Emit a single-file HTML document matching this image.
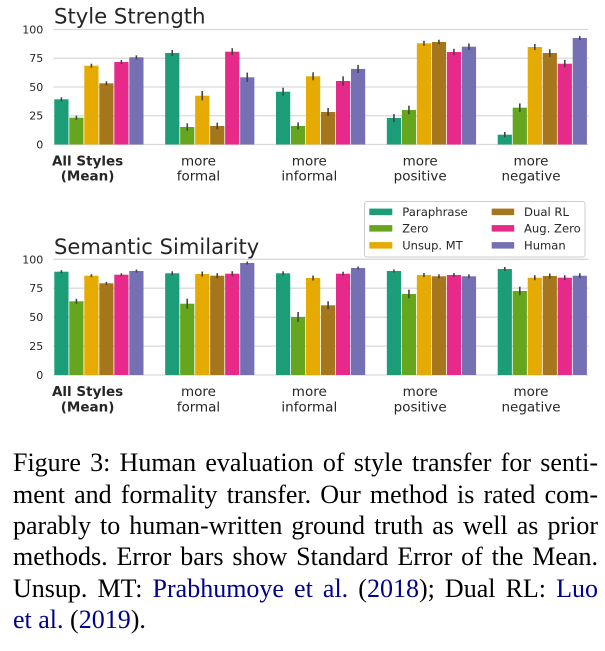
<!DOCTYPE html>
<html>
<head>
<meta charset="utf-8">
<style>
  html, body { margin:0; padding:0; background:#fff; }
  body { width:605px; height:651px; position:relative; overflow:hidden; }
  svg { position:absolute; left:0; top:0; }
  .cap { position:absolute; left:13px; width:585px; font-family:"Liberation Serif", "Times New Roman", serif; font-size:26px; line-height:31.3px; color:#000; text-align:justify; text-align-last:justify; white-space:normal; }
  .cap.last { text-align:left; text-align-last:left; }
  .lk { color:#00008b; }
</style>
</head>
<body>
<svg width="605" height="440" viewBox="0 0 605 440" xmlns="http://www.w3.org/2000/svg" font-family="'DejaVu Sans', 'Liberation Sans', sans-serif">
  <!-- ===== TOP CHART: Style Strength ===== -->
  <g stroke="#d9d9d9" stroke-width="1.3">
    <line x1="53.3" x2="588.3" y1="29.5" y2="29.5"/>
    <line x1="53.3" x2="588.3" y1="58.25" y2="58.25"/>
    <line x1="53.3" x2="588.3" y1="87" y2="87"/>
    <line x1="53.3" x2="588.3" y1="115.75" y2="115.75"/>
    <line x1="53.3" x2="588.3" y1="144.5" y2="144.5"/>
  </g>
  <g fill="#262626" font-size="11" text-anchor="end">
    <text x="43.3" y="33.5">100</text>
    <text x="43.3" y="62.2">75</text>
    <text x="43.3" y="91">50</text>
    <text x="43.3" y="119.7">25</text>
    <text x="43.3" y="148.5">0</text>
  </g>
  <text x="54" y="23.3" font-size="21.5" fill="#262626" textLength="151.5" lengthAdjust="spacingAndGlyphs">Style Strength</text>

  <g>
    <!-- G0 -->
    <rect x="54.3" y="99.3" width="14.2" height="45.2" fill="#1b9e77"/>
    <rect x="69.3" y="117.7" width="14.2" height="26.8" fill="#66a61e"/>
    <rect x="84.3" y="65.7" width="14.2" height="78.8" fill="#e6ab02"/>
    <rect x="99.3" y="83.3" width="14.2" height="61.2" fill="#a6761d"/>
    <rect x="114.3" y="62.0" width="14.2" height="82.5" fill="#e7298a"/>
    <rect x="129.3" y="57.3" width="14.2" height="87.2" fill="#7570b3"/>
    <!-- G1 -->
    <rect x="165.15" y="53.0" width="14.2" height="91.5" fill="#1b9e77"/>
    <rect x="180.15" y="127.0" width="14.2" height="17.5" fill="#66a61e"/>
    <rect x="195.15" y="95.7" width="14.2" height="48.8" fill="#e6ab02"/>
    <rect x="210.15" y="126.0" width="14.2" height="18.5" fill="#a6761d"/>
    <rect x="225.15" y="51.7" width="14.2" height="92.8" fill="#e7298a"/>
    <rect x="240.15" y="77.3" width="14.2" height="67.2" fill="#7570b3"/>
    <!-- G2 -->
    <rect x="276" y="91.7" width="14.2" height="52.8" fill="#1b9e77"/>
    <rect x="291" y="126.0" width="14.2" height="18.5" fill="#66a61e"/>
    <rect x="306" y="76.3" width="14.2" height="68.2" fill="#e6ab02"/>
    <rect x="321" y="112.0" width="14.2" height="32.5" fill="#a6761d"/>
    <rect x="336" y="81.0" width="14.2" height="63.5" fill="#e7298a"/>
    <rect x="351" y="68.9" width="14.2" height="75.6" fill="#7570b3"/>
    <!-- G3 -->
    <rect x="386.85" y="118.0" width="14.2" height="26.5" fill="#1b9e77"/>
    <rect x="401.85" y="110.0" width="14.2" height="34.5" fill="#66a61e"/>
    <rect x="416.85" y="43.3" width="14.2" height="101.2" fill="#e6ab02"/>
    <rect x="431.85" y="42.0" width="14.2" height="102.5" fill="#a6761d"/>
    <rect x="446.85" y="52.0" width="14.2" height="92.5" fill="#e7298a"/>
    <rect x="461.85" y="46.7" width="14.2" height="97.8" fill="#7570b3"/>
    <!-- G4 -->
    <rect x="497.7" y="134.7" width="14.2" height="9.8" fill="#1b9e77"/>
    <rect x="512.7" y="107.7" width="14.2" height="36.8" fill="#66a61e"/>
    <rect x="527.7" y="47.0" width="14.2" height="97.5" fill="#e6ab02"/>
    <rect x="542.7" y="53.0" width="14.2" height="91.5" fill="#a6761d"/>
    <rect x="557.7" y="63.7" width="14.2" height="80.8" fill="#e7298a"/>
    <rect x="572.7" y="38.0" width="14.2" height="106.5" fill="#7570b3"/>
  </g>
  <g stroke="#444" stroke-width="1.6">
    <line x1="61.4" x2="61.4" y1="97.3" y2="101.3"/>
    <line x1="76.4" x2="76.4" y1="115.7" y2="119.7"/>
    <line x1="91.4" x2="91.4" y1="63.7" y2="67.7"/>
    <line x1="106.4" x2="106.4" y1="81.3" y2="85.3"/>
    <line x1="121.4" x2="121.4" y1="60" y2="64"/>
    <line x1="136.4" x2="136.4" y1="55.3" y2="59.3"/>

    <line x1="172.25" x2="172.25" y1="50" y2="56"/>
    <line x1="187.25" x2="187.25" y1="123.3" y2="130.7"/>
    <line x1="202.25" x2="202.25" y1="91" y2="100.4"/>
    <line x1="217.25" x2="217.25" y1="122.7" y2="129.3"/>
    <line x1="232.25" x2="232.25" y1="48.2" y2="55.2"/>
    <line x1="247.25" x2="247.25" y1="72.6" y2="82"/>

    <line x1="283.1" x2="283.1" y1="87.7" y2="95.7"/>
    <line x1="298.1" x2="298.1" y1="122.5" y2="129.5"/>
    <line x1="313.1" x2="313.1" y1="72.3" y2="80.3"/>
    <line x1="328.1" x2="328.1" y1="108" y2="116"/>
    <line x1="343.1" x2="343.1" y1="76.3" y2="85.7"/>
    <line x1="358.1" x2="358.1" y1="64.9" y2="72.9"/>

    <line x1="393.95" x2="393.95" y1="114" y2="122"/>
    <line x1="408.95" x2="408.95" y1="105.7" y2="114.3"/>
    <line x1="423.95" x2="423.95" y1="40.8" y2="45.8"/>
    <line x1="438.95" x2="438.95" y1="39.7" y2="44.3"/>
    <line x1="453.95" x2="453.95" y1="48.8" y2="55.2"/>
    <line x1="468.95" x2="468.95" y1="43.4" y2="50"/>

    <line x1="504.8" x2="504.8" y1="132" y2="137.4"/>
    <line x1="519.8" x2="519.8" y1="103.4" y2="112"/>
    <line x1="534.8" x2="534.8" y1="44" y2="50"/>
    <line x1="549.8" x2="549.8" y1="49.3" y2="56.7"/>
    <line x1="564.8" x2="564.8" y1="59.9" y2="67.5"/>
    <line x1="579.8" x2="579.8" y1="36" y2="40"/>
  </g>
  <g fill="#262626" font-size="13.5" text-anchor="middle">
    <text x="87.6" y="165.7" font-weight="bold">All Styles</text>
    <text x="87.6" y="180.5" font-weight="bold">(Mean)</text>
    <text x="198.45" y="165.7">more</text>
    <text x="198.45" y="180.5">formal</text>
    <text x="309.3" y="165.7">more</text>
    <text x="309.3" y="180.5">informal</text>
    <text x="420.15" y="165.7">more</text>
    <text x="420.15" y="180.5">positive</text>
    <text x="531" y="165.7">more</text>
    <text x="531" y="180.5">negative</text>
  </g>

  <!-- ===== BOTTOM CHART: Semantic Similarity ===== -->
  <g stroke="#d9d9d9" stroke-width="1.3">
    <line x1="53.3" x2="588.3" y1="259.3" y2="259.3"/>
    <line x1="53.3" x2="588.3" y1="288.2" y2="288.2"/>
    <line x1="53.3" x2="588.3" y1="317.2" y2="317.2"/>
    <line x1="53.3" x2="588.3" y1="346.1" y2="346.1"/>
    <line x1="53.3" x2="588.3" y1="375" y2="375"/>
  </g>
  <g fill="#262626" font-size="11" text-anchor="end">
    <text x="43.3" y="263.3">100</text>
    <text x="43.3" y="292.2">75</text>
    <text x="43.3" y="321.2">50</text>
    <text x="43.3" y="350.1">25</text>
    <text x="43.3" y="379">0</text>
  </g>
  <text x="54" y="254" font-size="21.5" fill="#262626" textLength="205.3" lengthAdjust="spacingAndGlyphs">Semantic Similarity</text>

  <g>
    <rect x="54.3" y="271.7" width="14.2" height="103.3" fill="#1b9e77"/>
    <rect x="69.3" y="301.3" width="14.2" height="73.7" fill="#66a61e"/>
    <rect x="84.3" y="275.7" width="14.2" height="99.3" fill="#e6ab02"/>
    <rect x="99.3" y="283.3" width="14.2" height="91.7" fill="#a6761d"/>
    <rect x="114.3" y="274.7" width="14.2" height="100.3" fill="#e7298a"/>
    <rect x="129.3" y="271.0" width="14.2" height="104" fill="#7570b3"/>

    <rect x="165.15" y="273.3" width="14.2" height="101.7" fill="#1b9e77"/>
    <rect x="180.15" y="303.7" width="14.2" height="71.3" fill="#66a61e"/>
    <rect x="195.15" y="274.0" width="14.2" height="101" fill="#e6ab02"/>
    <rect x="210.15" y="275.7" width="14.2" height="99.3" fill="#a6761d"/>
    <rect x="225.15" y="273.7" width="14.2" height="101.3" fill="#e7298a"/>
    <rect x="240.15" y="263.0" width="14.2" height="112" fill="#7570b3"/>

    <rect x="276" y="273.3" width="14.2" height="101.7" fill="#1b9e77"/>
    <rect x="291" y="317.0" width="14.2" height="58" fill="#66a61e"/>
    <rect x="306" y="278.0" width="14.2" height="97" fill="#e6ab02"/>
    <rect x="321" y="305.3" width="14.2" height="69.7" fill="#a6761d"/>
    <rect x="336" y="273.7" width="14.2" height="101.3" fill="#e7298a"/>
    <rect x="351" y="268.0" width="14.2" height="107" fill="#7570b3"/>

    <rect x="386.85" y="271.0" width="14.2" height="104" fill="#1b9e77"/>
    <rect x="401.85" y="294.0" width="14.2" height="81" fill="#66a61e"/>
    <rect x="416.85" y="275.0" width="14.2" height="100" fill="#e6ab02"/>
    <rect x="431.85" y="276.3" width="14.2" height="98.7" fill="#a6761d"/>
    <rect x="446.85" y="275.0" width="14.2" height="100" fill="#e7298a"/>
    <rect x="461.85" y="276.3" width="14.2" height="98.7" fill="#7570b3"/>

    <rect x="497.7" y="269.0" width="14.2" height="106" fill="#1b9e77"/>
    <rect x="512.7" y="291.0" width="14.2" height="84" fill="#66a61e"/>
    <rect x="527.7" y="277.7" width="14.2" height="97.3" fill="#e6ab02"/>
    <rect x="542.7" y="276.0" width="14.2" height="99" fill="#a6761d"/>
    <rect x="557.7" y="277.7" width="14.2" height="97.3" fill="#e7298a"/>
    <rect x="572.7" y="275.7" width="14.2" height="99.3" fill="#7570b3"/>
  </g>
  <g stroke="#444" stroke-width="1.6">
    <line x1="61.4" x2="61.4" y1="270.2" y2="273.2"/>
    <line x1="76.4" x2="76.4" y1="298.8" y2="303.8"/>
    <line x1="91.4" x2="91.4" y1="274.2" y2="277.2"/>
    <line x1="106.4" x2="106.4" y1="281.8" y2="284.8"/>
    <line x1="121.4" x2="121.4" y1="273.2" y2="276.2"/>
    <line x1="136.4" x2="136.4" y1="269.5" y2="272.5"/>

    <line x1="172.25" x2="172.25" y1="271.3" y2="275.3"/>
    <line x1="187.25" x2="187.25" y1="298.7" y2="308.7"/>
    <line x1="202.25" x2="202.25" y1="271.5" y2="276.5"/>
    <line x1="217.25" x2="217.25" y1="273.2" y2="278.2"/>
    <line x1="232.25" x2="232.25" y1="271.2" y2="276.2"/>
    <line x1="247.25" x2="247.25" y1="261.5" y2="264.5"/>

    <line x1="283.1" x2="283.1" y1="271.3" y2="275.3"/>
    <line x1="298.1" x2="298.1" y1="312" y2="322"/>
    <line x1="313.1" x2="313.1" y1="275.5" y2="280.5"/>
    <line x1="328.1" x2="328.1" y1="301.3" y2="309.3"/>
    <line x1="343.1" x2="343.1" y1="271.7" y2="275.7"/>
    <line x1="358.1" x2="358.1" y1="266.5" y2="269.5"/>

    <line x1="393.95" x2="393.95" y1="269.5" y2="272.5"/>
    <line x1="408.95" x2="408.95" y1="289.7" y2="298.3"/>
    <line x1="423.95" x2="423.95" y1="273" y2="277"/>
    <line x1="438.95" x2="438.95" y1="274.3" y2="278.3"/>
    <line x1="453.95" x2="453.95" y1="273" y2="277"/>
    <line x1="468.95" x2="468.95" y1="274.3" y2="278.3"/>

    <line x1="504.8" x2="504.8" y1="267" y2="271"/>
    <line x1="519.8" x2="519.8" y1="286.7" y2="295.3"/>
    <line x1="534.8" x2="534.8" y1="275.2" y2="280.2"/>
    <line x1="549.8" x2="549.8" y1="273.5" y2="278.5"/>
    <line x1="564.8" x2="564.8" y1="275.2" y2="280.2"/>
    <line x1="579.8" x2="579.8" y1="273.2" y2="278.2"/>
  </g>
  <g fill="#262626" font-size="13.5" text-anchor="middle">
    <text x="87.6" y="396" font-weight="bold">All Styles</text>
    <text x="87.6" y="411.3" font-weight="bold">(Mean)</text>
    <text x="198.45" y="396">more</text>
    <text x="198.45" y="411.3">formal</text>
    <text x="309.3" y="396">more</text>
    <text x="309.3" y="411.3">informal</text>
    <text x="420.15" y="396">more</text>
    <text x="420.15" y="411.3">positive</text>
    <text x="531" y="396">more</text>
    <text x="531" y="411.3">negative</text>
  </g>

  <!-- ===== LEGEND ===== -->
  <rect x="364.5" y="201.5" width="220.5" height="55.5" rx="2.5" ry="2.5" fill="#fff" fill-opacity="0.9" stroke="#cccccc" stroke-width="1"/>
  <rect x="369.3" y="208.6" width="23" height="6.5" fill="#1b9e77"/>
  <rect x="369.3" y="225.1" width="23" height="6.5" fill="#66a61e"/>
  <rect x="369.3" y="242.1" width="23" height="6.5" fill="#e6ab02"/>
  <rect x="491.7" y="208.6" width="22.5" height="6.5" fill="#a6761d"/>
  <rect x="491.7" y="225.1" width="22.5" height="6.5" fill="#e7298a"/>
  <rect x="491.7" y="242.1" width="22.5" height="6.5" fill="#7570b3"/>
  <g fill="#262626" font-size="11.5">
    <text x="402.3" y="216.2" textLength="65.4" lengthAdjust="spacingAndGlyphs">Paraphrase</text>
    <text x="402.3" y="232.7" textLength="26" lengthAdjust="spacingAndGlyphs">Zero</text>
    <text x="402.3" y="249.7" textLength="60.3" lengthAdjust="spacingAndGlyphs">Unsup. MT</text>
    <text x="524" y="216.2" textLength="45" lengthAdjust="spacingAndGlyphs">Dual RL</text>
    <text x="524" y="232.7" textLength="56.7" lengthAdjust="spacingAndGlyphs">Aug. Zero</text>
    <text x="524" y="249.7" textLength="41.7" lengthAdjust="spacingAndGlyphs">Human</text>
  </g>
</svg>

<div class="cap" style="top:447.3px;">Figure 3: Human evaluation of style transfer for senti-</div>
<div class="cap" style="top:478.6px;">ment and formality transfer. Our method is rated com-</div>
<div class="cap" style="top:509.9px;">parably to human-written ground truth as well as prior</div>
<div class="cap" style="top:541.2px;">methods. Error bars show Standard Error of the Mean.</div>
<div class="cap" style="top:572.5px;">Unsup. MT: <span class="lk">Prabhumoye et al.</span> (<span class="lk">2018</span>); Dual RL: <span class="lk">Luo</span></div>
<div class="cap last" style="top:603.8px;"><span class="lk">et al.</span> (<span class="lk">2019</span>).</div>
</body>
</html>
